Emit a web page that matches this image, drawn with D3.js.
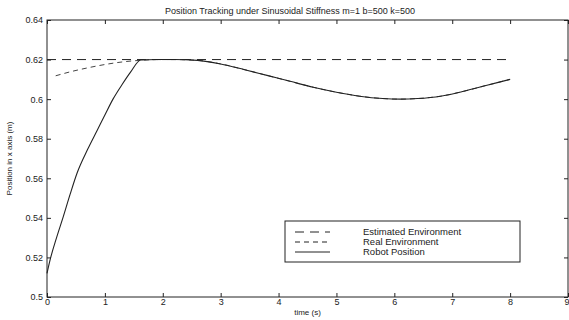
<!DOCTYPE html>
<html><head><meta charset="utf-8">
<script src="https://cdn.jsdelivr.net/npm/d3@7"></script>
<style>body{margin:0;background:#fff}svg{display:block}text{font-family:"Liberation Sans",Arial,sans-serif;fill:#222}</style>
</head><body>
<script>
const title = "Position Tracking under Sinusoidal Stiffness  m=1  b=500  k=500";
const xLabel = "time (s)";
const yLabel = "Position in x axis (m)";
const xTicks = [0,1,2,3,4,5,6,7,8,9];
const yTicks = [0.5,0.52,0.54,0.56,0.58,0.6,0.62,0.64];
const estT = [0, 8];
const estY = [0.62, 0.62];
const realT = [0.15,0.4,0.7,1.0,1.3,1.6,1.9,2.2,2.6,3.0,3.4,3.8,4.2,4.6,5.0,5.4,5.8,6.1,6.4,6.8,7.2,7.6,8.0];
const realY = [0.6118,0.6138,0.6158,0.6175,0.6188,0.6196,0.6200,0.6200,0.6196,0.6178,0.6150,0.6120,0.6090,0.6060,0.6035,0.6015,0.6003,0.6000,0.6003,0.6015,0.6040,0.6070,0.6100];
const robT = [0,0.06,0.16,0.28,0.4,0.52,0.7,0.87,1.0,1.14,1.3,1.44,1.62,1.9,2.2,2.6,3.0,3.4,3.8,4.2,4.6,5.0,5.4,5.8,6.1,6.4,6.8,7.2,7.6,8.0];
const robY = [0.512,0.5195,0.5295,0.5405,0.552,0.5627,0.5745,0.5844,0.592,0.600,0.6075,0.6135,0.6198,0.6200,0.6200,0.6196,0.6178,0.6150,0.6120,0.6090,0.6060,0.6035,0.6015,0.6003,0.6000,0.6003,0.6015,0.6040,0.6070,0.6100];
const legendLabels = ["Estimated Environment","Real Environment","Robot Position"];

const W=569,H=320, m={l:47,r:1,t:20,b:23};
const svg=d3.select("body").append("svg").attr("width",W).attr("height",H);
const x=d3.scaleLinear().domain([0,9]).range([m.l,W-m.r]);
const y=d3.scaleLinear().domain([0.5,0.64]).range([H-m.b,m.t]);
const g=svg.append("g");
const col="#222";
const fmt=d=>d===0.5?"0.5":d===0.6?"0.6":d3.format(".2f")(d);
g.append("rect").attr("x",x(0)).attr("y",y(0.64)).attr("width",x(9)-x(0)).attr("height",y(0.5)-y(0.64)).attr("fill","none").attr("stroke",col).attr("stroke-width",1);
const bx=d3.axisBottom(x).tickValues(xTicks).tickSize(-4).tickFormat(d3.format("d"));
const gb=g.append("g").attr("transform",`translate(0,${y(0.5)})`).call(bx);
const gt=g.append("g").attr("transform",`translate(0,${y(0.64)})`).call(d3.axisTop(x).tickValues(xTicks).tickSize(-4).tickFormat(""));
const gl=g.append("g").attr("transform",`translate(${x(0)},0)`).call(d3.axisLeft(y).tickValues(yTicks).tickSize(-4).tickFormat(fmt));
const gr=g.append("g").attr("transform",`translate(${x(9)},0)`).call(d3.axisRight(y).tickValues(yTicks).tickSize(-4).tickFormat(""));
[gb,gt,gl,gr].forEach(a=>{a.select(".domain").remove();a.selectAll("line").attr("stroke",col);a.selectAll("text").attr("font-size",9).attr("font-family","Liberation Sans, Arial, sans-serif").attr("fill",col);});
gb.selectAll("text").attr("dy","0.6em");
gb.selectAll("text").filter(d=>d===9).attr("text-anchor","end").attr("dx","1");
gl.selectAll("text").attr("dx","-1");
const line=d3.line().x(d=>x(d[0])).y(d=>y(d[1])).curve(d3.curveMonotoneX);
svg.append("path").datum(estT.map((t,i)=>[t,estY[i]])).attr("d",line).attr("fill","none").attr("stroke",col).attr("stroke-width",1).attr("stroke-dasharray","9,6");
svg.append("path").datum(realT.map((t,i)=>[t,realY[i]])).attr("d",line).attr("fill","none").attr("stroke","#444").attr("stroke-width",1).attr("stroke-dasharray","5,4");
svg.append("path").datum(robT.map((t,i)=>[t,robY[i]])).attr("d",line).attr("fill","none").attr("stroke",col).attr("stroke-width",1.1);
svg.append("text").attr("x",290).attr("y",14).attr("text-anchor","middle").attr("font-size",9).text(title);
svg.append("text").attr("x",x(4.5)).attr("y",315).attr("text-anchor","middle").attr("font-size",8).text(xLabel);
svg.append("text").attr("transform",`translate(12,${(y(0.5)+y(0.64))/2}) rotate(-90)`).attr("text-anchor","middle").attr("font-size",8).text(yLabel);
const lg=svg.append("g").attr("transform","translate(285,221)");
lg.append("rect").attr("width",235).attr("height",41).attr("fill","#fff").attr("stroke",col);
const dashes=["9,6","5,4",null];
legendLabels.forEach((l,i)=>{
  const yy=11+i*10;
  const ln=lg.append("line").attr("x1",10).attr("x2",45).attr("y1",yy).attr("y2",yy).attr("stroke",col).attr("stroke-width",1);
  if(dashes[i]) ln.attr("stroke-dasharray",dashes[i]);
  lg.append("text").attr("x",78).attr("y",yy+3.3).attr("font-size",9.5).text(l);
});
</script>
</body></html>
